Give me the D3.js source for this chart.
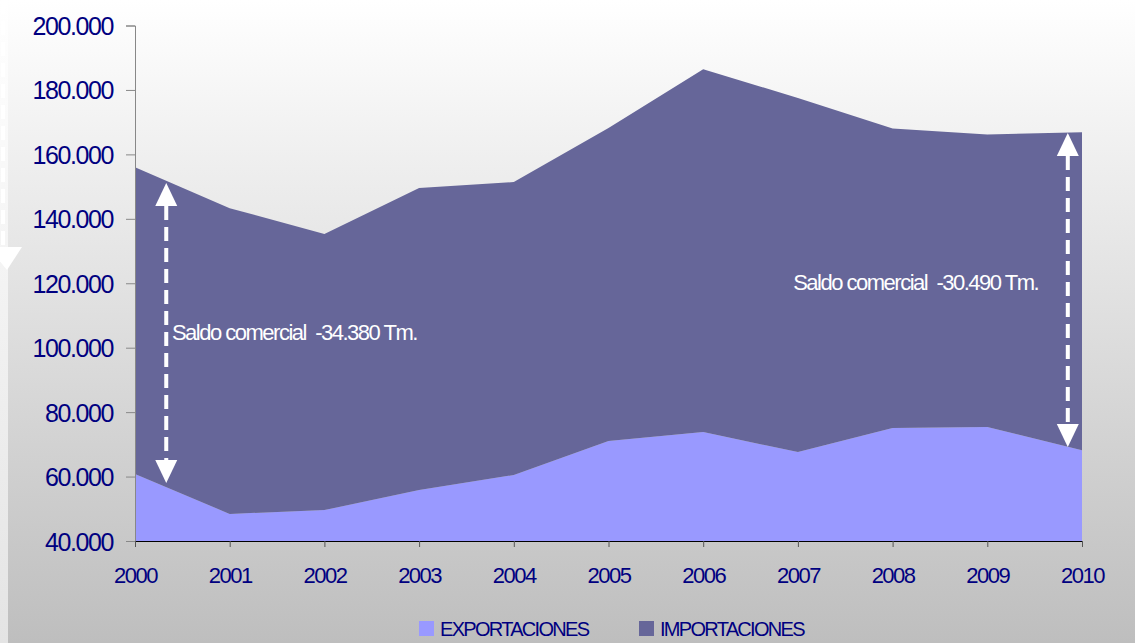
<!DOCTYPE html>
<html>
<head>
<meta charset="utf-8">
<script src="https://cdn.jsdelivr.net/npm/d3@7"></script>
<style>
  html, body { margin: 0; padding: 0; background: #fff; }
  svg { display: block; font-family: "Liberation Sans", Arial, sans-serif; }
</style>
</head>
<body>
<script>
// datos (toneladas)
var years = [2000, 2001, 2002, 2003, 2004, 2005, 2006, 2007, 2008, 2009, 2010];
var exportaciones = [60800, 48400, 49600, 55800, 60500, 71000, 73800, 67600, 75100, 75400, 68200];
var importaciones = [95200, 94900, 85700, 93800, 90900, 97200, 112600, 109900, 92900, 90800, 98700];
var yTicks = [40000, 60000, 80000, 100000, 120000, 140000, 160000, 180000, 200000];
var seriesNames = ["EXPORTACIONES", "IMPORTACIONES"];
var seriesColors = ["#9999ff", "#666699"];

// saldo comercial: flecha entre dos valores y etiqueta
var saldoLabels = ["Saldo comercial  -34.380 Tm.", "Saldo comercial  -30.490 Tm."];
var saldoArrowYear = [2000.33, 2009.85];
var saldoArrowFrom = [58000, 69200];
var saldoArrowTo = [151100, 166600];
var saldoTextYear = [2000.39, 2006.95];
var saldoTextValue = [102400, 117900];

var width = 1135,
    height = 643;

var margin = { top: 25.5, right: 53, bottom: 102, left: 135 };

var svg = d3.select("body")
  .append("svg")
  .attr("width", width)
  .attr("height", height)

var defs = svg.append("defs")
var g1 = defs.append("linearGradient").attr("id", "bgOuter")
  .attr("x1", 0).attr("y1", 0).attr("x2", 0).attr("y2", 1)
g1.append("stop").attr("offset", "0%").attr("stop-color", "#ffffff")
g1.append("stop").attr("offset", "100%").attr("stop-color", "#e4e4e4")
var g2 = defs.append("linearGradient").attr("id", "bgPanel")
  .attr("x1", 0).attr("y1", 0).attr("x2", 0).attr("y2", 1)
g2.append("stop").attr("offset", "0%").attr("stop-color", "#ffffff")
g2.append("stop").attr("offset", "100%").attr("stop-color", "#bebebe")

svg.append("rect")
  .attr("width", width).attr("height", height)
  .attr("fill", "url(#bgOuter)")
svg.append("rect")
  .attr("x", 8).attr("width", width - 8).attr("height", height)
  .attr("fill", "url(#bgPanel)")

// resto de una flecha cortada en el borde izquierdo
svg.append("line")
  .attr("x1", 3).attr("x2", 3).attr("y1", 0).attr("y2", 248)
  .attr("stroke", "#ffffff").attr("stroke-width", 4)
  .attr("stroke-dasharray", "14,7")
svg.append("path")
  .attr("d", "M-12,247 L22,247 L7,270 Z")
  .attr("fill", "#ffffff")

var x = d3.scaleLinear()
  .domain([2000, 2010])
  .range([margin.left, width - margin.right])

var y = d3.scaleLinear()
  .domain([40000, 200000])
  .range([height - margin.bottom, margin.top])

var table = years.map(function(yr, i) {
  return { year: yr, EXPORTACIONES: exportaciones[i], IMPORTACIONES: importaciones[i] }
})

var stacked = d3.stack().keys(seriesNames)(table)

var area = d3.area()
  .x(function(d) { return x(d.data.year) })
  .y0(function(d) { return y(d[0]) })
  .y1(function(d) { return y(d[1]) })

var plot = svg.append("g")
plot.append("clipPath").attr("id", "clip")
  .append("rect")
  .attr("x", margin.left).attr("y", 0)
  .attr("width", width - margin.right - margin.left)
  .attr("height", height - margin.bottom)

plot.selectAll("path.area")
  .data(stacked)
  .enter().append("path")
  .attr("class", "area")
  .attr("clip-path", "url(#clip)")
  .attr("d", area)
  .attr("fill", function(d, i) { return seriesColors[i] })

// ejes
var fmt = function(v) { return d3.format(",")(v).replace(/,/g, ".") }

var yAxis = svg.append("g")
  .attr("transform", "translate(" + margin.left + ",0)")
  .call(d3.axisLeft(y).tickValues(yTicks).tickFormat(fmt).tickSize(9).tickPadding(13))
yAxis.select(".domain").attr("stroke", "#888888")
yAxis.selectAll(".tick line").attr("stroke", "#888888")
yAxis.selectAll("text")
  .attr("fill", "#000080")
  .style("font-size", "25px")
  .style("letter-spacing", "-1.4px")
  .attr("dy", "0.36em")

var xAxis = svg.append("g")
  .attr("transform", "translate(0," + y(40000) + ")")
  .call(d3.axisBottom(x).tickValues(years).tickFormat(d3.format("d")).tickSize(6).tickPadding(20))
xAxis.select(".domain").attr("stroke", "#000000")
xAxis.selectAll(".tick line").attr("stroke", "#555555")
xAxis.selectAll("text")
  .attr("fill", "#000080")
  .style("font-size", "22px")
  .style("letter-spacing", "-1.5px")

// flechas del saldo comercial
var head = 11, headLen = 23;
saldoLabels.forEach(function(lbl, i) {
  var ax = x(saldoArrowYear[i]),
      yb = y(saldoArrowFrom[i]),
      yt = y(saldoArrowTo[i]);
  svg.append("line")
    .attr("x1", ax).attr("x2", ax)
    .attr("y1", yt + headLen).attr("y2", yb - headLen)
    .attr("stroke", "#ffffff").attr("stroke-width", 4)
    .attr("stroke-dasharray", "14,7")
  svg.append("path")
    .attr("d", "M" + ax + "," + yt + " L" + (ax + head) + "," + (yt + headLen) + " L" + (ax - head) + "," + (yt + headLen) + " Z")
    .attr("fill", "#ffffff")
  svg.append("path")
    .attr("d", "M" + ax + "," + yb + " L" + (ax + head) + "," + (yb - headLen) + " L" + (ax - head) + "," + (yb - headLen) + " Z")
    .attr("fill", "#ffffff")
  svg.append("text")
    .attr("x", x(saldoTextYear[i]))
    .attr("y", y(saldoTextValue[i]))
    .attr("fill", "#ffffff")
    .style("font-size", "22px")
    .style("letter-spacing", "-1.5px")
    .style("white-space", "pre")
    .text(lbl)
})

// leyenda
var legendX = [419, 639];
var legend = svg.selectAll("g.legend")
  .data(seriesNames)
  .enter().append("g")
  .attr("class", "legend")
  .attr("transform", function(d, i) { return "translate(" + legendX[i] + ",621)" })
legend.append("rect")
  .attr("width", 15).attr("height", 15)
  .attr("fill", function(d, i) { return seriesColors[i] })
legend.append("text")
  .attr("x", 21).attr("y", 15)
  .attr("fill", "#000080")
  .style("font-size", "20px")
  .style("letter-spacing", "-1.7px")
  .text(function(d) { return d })
</script>
</body>
</html>
